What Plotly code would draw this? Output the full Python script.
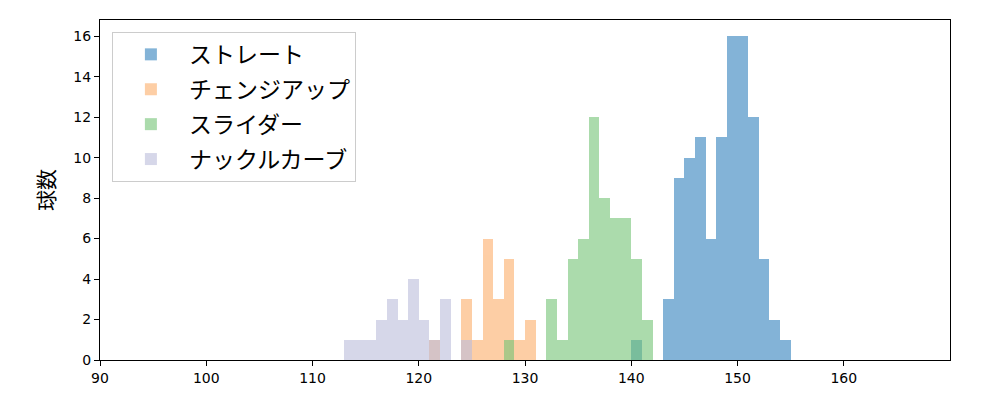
import plotly.graph_objects as go

# 球速ヒストグラム (1km/h刻み)
straight_bins = [140, 141, 142, 143, 144, 145, 146, 147, 148, 149, 150, 151, 152, 153, 154]
straight_counts = [1, 0, 0, 3, 9, 10, 11, 6, 11, 16, 16, 12, 5, 2, 1]

change_bins = [121, 122, 123, 124, 125, 126, 127, 128, 129, 130]
change_counts = [1, 0, 0, 3, 1, 6, 3, 5, 1, 2]

slider_bins = [128, 129, 130, 131, 132, 133, 134, 135, 136, 137, 138, 139, 140, 141]
slider_counts = [1, 0, 0, 0, 3, 1, 5, 6, 12, 8, 7, 7, 5, 2]

knuckle_bins = [113, 114, 115, 116, 117, 118, 119, 120, 121, 122, 123, 124]
knuckle_counts = [1, 1, 1, 2, 3, 2, 4, 2, 1, 3, 0, 1]

series = [
    ("ストレート", straight_bins, straight_counts, "#3182bd"),
    ("チェンジアップ", change_bins, change_counts, "#fdae6b"),
    ("スライダー", slider_bins, slider_counts, "#74c476"),
    ("ナックルカーブ", knuckle_bins, knuckle_counts, "#bcbddc"),
]

fig = go.Figure()
for name, bins, counts, color in series:
    fig.add_trace(go.Bar(
        x=[b + 0.5 for b in bins],
        y=counts,
        width=1,
        name=name,
        legendgroup=name,
        marker=dict(color=color, line=dict(width=0)),
        opacity=0.6,
    ))

axis_style = dict(
    showline=True, linecolor="black", linewidth=1.2, mirror=True,
    ticks="outside", ticklen=5, tickcolor="black",
    showgrid=False, zeroline=False,
    tickfont=dict(family="DejaVu Sans", size=14, color="black"),
)

fig.update_layout(
    width=1000, height=400,
    margin=dict(l=92, r=58, t=12, b=48),
    barmode="overlay",
    bargap=0,
    plot_bgcolor="white",
    paper_bgcolor="white",
    xaxis=dict(range=[90, 170], tickvals=[90, 100, 110, 120, 130, 140, 150, 160], **axis_style),
    yaxis=dict(range=[0, 16.8], tickvals=list(range(0, 17, 2)),
               title=dict(text="球数", font=dict(family="Noto Sans CJK JP", size=21, color="black"), standoff=12),
               **axis_style),
    legend=dict(
        x=0.014, y=0.965, xanchor="left", yanchor="top",
        bgcolor="rgba(255,255,255,0.8)", bordercolor="#cccccc", borderwidth=1,
        font=dict(family="Noto Sans CJK JP", size=23, color="black"),
        itemwidth=66, tracegroupgap=2,
    ),
)

fig.write_html("out.html")
